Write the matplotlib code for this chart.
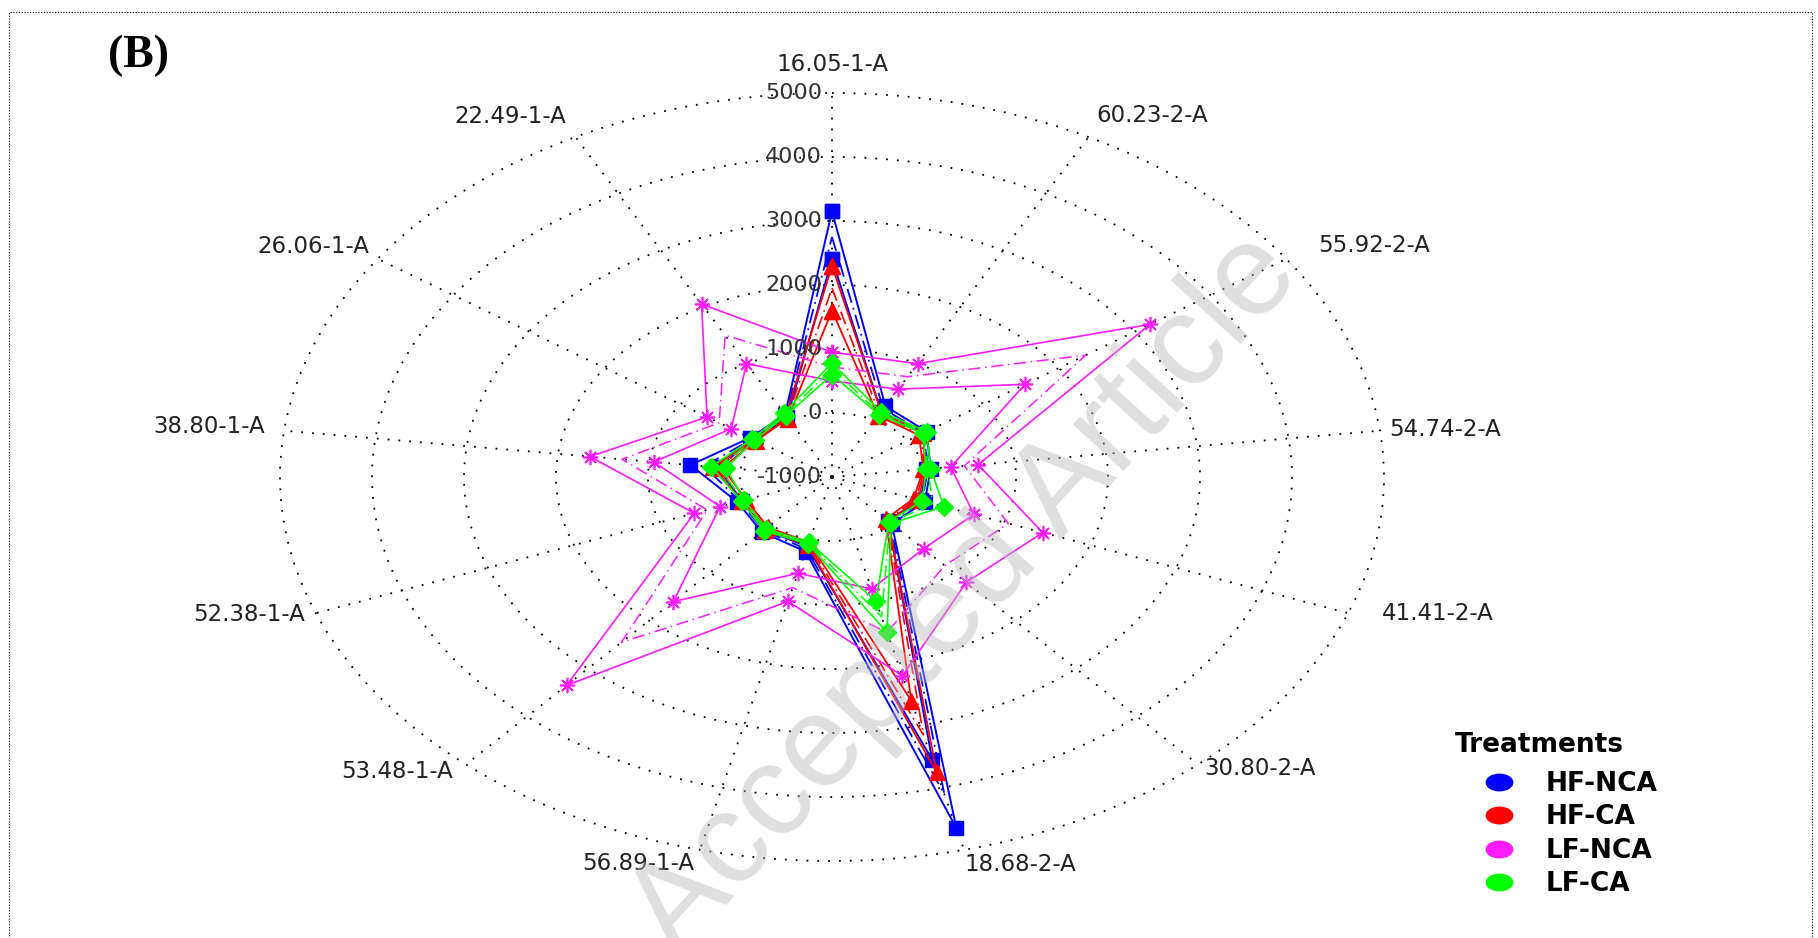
import numpy as np
import matplotlib
matplotlib.use("Agg")
import matplotlib.pyplot as plt
from matplotlib.path import Path
from matplotlib.lines import Line2D
from matplotlib.patches import Rectangle
from matplotlib.font_manager import FontProperties
import matplotlib.transforms as mtransforms

# ---------------- data ----------------
categories = ["16.05-1-A", "60.23-2-A", "55.92-2-A", "54.74-2-A", "41.41-2-A",
              "30.80-2-A", "18.68-2-A", "56.89-1-A", "53.48-1-A", "52.38-1-A",
              "38.80-1-A", "26.06-1-A", "22.49-1-A"]
r_ticks = [-1000, 0, 1000, 2000, 3000, 4000, 5000]

hf_nca_hi = [3150, 250, 250, 80, 80, -20, 4650, 200, 150, 100, 550, 80, 100]
hf_nca_mid = [2750, 200, 220, 50, 50, -50, 4100, 160, 120, 70, 400, 50, 80]
hf_nca_lo = [2400, 150, 200, 30, 30, -80, 3550, 120, 100, 50, 250, 30, 50]

hf_ca_hi = [2300, 150, 200, 30, 0, -80, 3750, 100, 100, 50, 300, 30, 80]
hf_ca_mid = [1950, 110, 170, 15, -25, -100, 3150, 75, 75, 25, 250, 15, 50]
hf_ca_lo = [1600, 80, 150, 0, -50, -120, 2600, 50, 50, 0, 200, 0, 30]

lf_nca_hi = [950, 1000, 3200, 600, 1450, 1200, 2200, 1000, 3350, 600, 1650, 650, 2050]
lf_nca_mid = [720, 770, 2350, 450, 1050, 850, 1500, 780, 2450, 450, 1300, 490, 1500]
lf_nca_lo = [500, 550, 1550, 300, 650, 500, 800, 550, 1600, 300, 950, 330, 1000]

lf_ca_hi = [780, 150, 250, 80, 300, -30, 1500, 80, 120, 50, 325, 50, 130]
lf_ca_mid = [690, 120, 220, 50, 170, -50, 1250, 65, 100, 35, 240, 35, 100]
lf_ca_lo = [600, 100, 200, 30, 50, -70, 1000, 50, 80, 20, 160, 20, 80]

treatments = ["HF-NCA", "HF-CA", "LF-NCA", "LF-CA"]
colors = ["#0000ff", "#ff0000", "#ff1aff", "#00ff00"]

# label layout (angle in degrees, radius as fraction of outer ring)
label_layout = [(0, 1.073), (31.7, 1.105), (58.5, 1.152), (83.7, 1.117),
                (108.0, 1.154), (134.4, 1.086), (161.3, 1.064), (199.2, 1.067),
                (225.8, 1.099), (251.3, 1.115), (276.6, 1.136), (302.5, 1.115),
                (328.2, 1.106)]

# ---------------- figure ----------------
W, H = 1818, 938
fig = plt.figure(figsize=(W / 100, H / 100), dpi=100)
fig.patch.set_facecolor("white")

ax = fig.add_axes([280 / W, (H - 861) / H, 1104 / W, 768 / H], projection="polar")
ax.set_aspect("auto")
ax.set_theta_zero_location("N")
ax.set_theta_direction(-1)
rmin, rmax = r_ticks[0], r_ticks[-1]
ax.set_ylim(rmin, rmax)

n = len(categories)
theta = np.arange(n) * 2 * np.pi / n
ax.set_xticks(theta)
ax.set_xticklabels([])
ax.set_yticks(r_ticks[1:])
ax.set_yticklabels([])
ax.grid(True, color="black", linestyle=(0, (1, 5)), linewidth=1.3)
for gl in ax.yaxis.get_gridlines() + ax.xaxis.get_gridlines():
    gl.set_clip_on(False)
ax.spines["polar"].set_visible(False)
ax.set_facecolor("none")

tc = np.append(theta, theta[0])


def close(v):
    return np.append(v, v[0])


series = [
    (hf_nca_hi, hf_nca_mid, hf_nca_lo, colors[0], "s", 10, 1.0, 1.4),
    (hf_ca_hi, hf_ca_mid, hf_ca_lo, colors[1], "^", 11, 1.0, 1.3),
    (lf_nca_hi, lf_nca_mid, lf_nca_lo, colors[2], (8, 2, 0), 11, 1.2, 1.2),
    (lf_ca_hi, lf_ca_mid, lf_ca_lo, colors[3], "D", 9, 1.0, 1.2),
]
for hi, mid, lo, c, m, ms, mew, lw in series:
    ax.plot(tc, close(hi), color=c, lw=lw, marker=m, ms=ms, mfc=c, mec=c, mew=mew,
            clip_on=False)
    ax.plot(tc, close(mid), color=c, lw=lw - 0.1, ls=(0, (8, 3, 1, 3)), clip_on=False)
    ax.plot(tc, close(lo), color=c, lw=lw, marker=m, ms=ms, mfc=c, mec=c, mew=mew,
            clip_on=False)

# radial tick labels
off = mtransforms.offset_copy(ax.transData, fig=fig, x=-10, y=0, units="dots")
for v in r_ticks:
    ax.text(0, v, str(v), transform=off, ha="right", va="center",
            fontsize=16, color="#333333", family="DejaVu Sans")

# category labels
for (deg, f), lab in zip(label_layout, categories):
    ax.text(np.deg2rad(deg), rmin + (rmax - rmin) * f, lab, ha="center", va="center",
            fontsize=16.5, color="#222222", family="DejaVu Sans", clip_on=False)

# legend
circ = Path.unit_circle()
ell = Path(circ.vertices * np.array([1.6, 1.0]), circ.codes)
handles = [Line2D([], [], ls="none", marker=ell, ms=19, mfc=c, mec=c) for c in colors]
fig.legend(handles, treatments, loc="upper left",
           bbox_to_anchor=(1483 / W, 1 - 771 / H), frameon=False,
           prop=FontProperties(family="DejaVu Sans", weight="bold", size=19),
           handlelength=1.2, handletextpad=1.19, labelspacing=0.28, borderpad=0,
           borderaxespad=0)
fig.text(1455 / W, 1 - 745 / H, "Treatments", ha="left", va="center",
         fontsize=19, fontweight="bold", family="DejaVu Sans")

# panel label
fig.text(138 / W, 1 - 56 / H, "(B)", ha="center", va="center",
         fontsize=33, fontweight="bold", family="Liberation Serif")

# dotted frame
fig.patches.append(Rectangle((9 / W, -0.05), (1812 - 9) / W, 1 - 12 / H + 0.05,
                             transform=fig.transFigure, fill=False,
                             ec="black", lw=0.8, ls=(0, (1, 1.5))))

# watermark
fig.text(965 / W, 1 - 595 / H, "Accepted Article", rotation=47.5,
         rotation_mode="anchor", ha="center", va="center", fontsize=93,
         color="#b8b8b8", alpha=0.45, family="Liberation Sans", zorder=10)

fig.savefig("out.png", dpi=100, facecolor="white")
